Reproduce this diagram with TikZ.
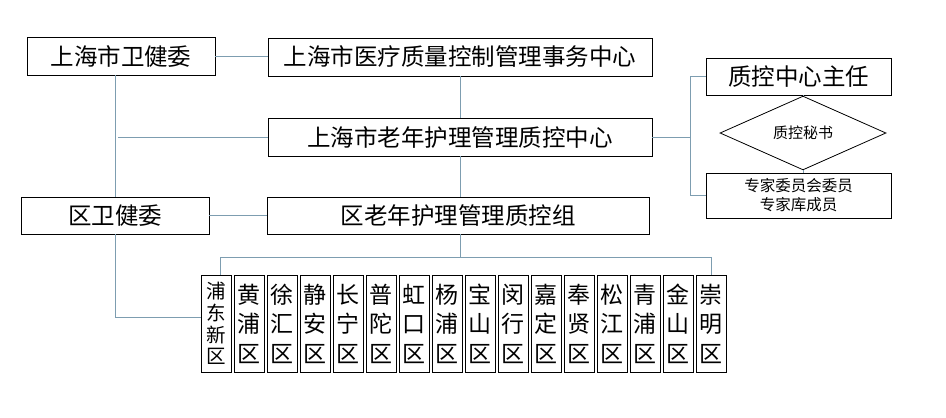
\documentclass[tikz,border=0pt]{standalone}
\usepackage{fontspec}
\setmainfont{Noto Sans CJK SC}
\usetikzlibrary{shapes.geometric}
\definecolor{connc}{RGB}{125,157,176}
\tikzset{
  box/.style={draw=black, line width=0.8pt, inner sep=0pt, align=center},
  big/.style={box, font=\fontsize{23.5}{28}\selectfont},
  dist/.style={box, minimum width=30, minimum height=97, font=\fontsize{23}{29.5}\selectfont},
  conn/.style={draw=connc, line width=0.9pt},
}
\begin{document}
\begin{tikzpicture}[x=1pt,y=-1pt]
\useasboundingbox[fill=white] (0,0) rectangle (946,418);
\node[big, minimum width=188, minimum height=38] (wjw) at (121,56) {上海市卫健委};
\node[big, minimum width=384, minimum height=38] (yl) at (460,57) {上海市医疗质量控制管理事务中心};
\node[big, minimum width=384, minimum height=38] (lnc) at (460,137) {上海市老年护理管理质控中心};
\node[big, minimum width=188, minimum height=37] (qwjw) at (115,215.5) {区卫健委};
\node[big, minimum width=382, minimum height=37] (qz) at (458,215.5) {区老年护理管理质控组};
\node[big, minimum width=185, minimum height=37] (zr) at (798.5,76.5) {质控中心主任};
\node[draw=black, line width=0.8pt, shape=diamond, inner sep=0pt, minimum width=166, minimum height=49, font=\fontsize{15}{18}\selectfont] (ms) at (803,133) {质控秘书};
\node[box, minimum width=185, minimum height=45, font=\fontsize{15.5}{19}\selectfont] (zj) at (798.5,195.5) {专家委员会委员\\专家库成员};
\node[dist, font=\fontsize{19.5}{21.7}\selectfont] (d1) at (216,323.5) {浦\\东\\新\\区};
\node[dist] (d2) at (249,323.5) {黄\\浦\\区};
\node[dist] (d3) at (282,323.5) {徐\\汇\\区};
\node[dist] (d4) at (315,323.5) {静\\安\\区};
\node[dist] (d5) at (348,323.5) {长\\宁\\区};
\node[dist] (d6) at (381,323.5) {普\\陀\\区};
\node[dist] (d7) at (414,323.5) {虹\\口\\区};
\node[dist] (d8) at (447,323.5) {杨\\浦\\区};
\node[dist] (d9) at (480,323.5) {宝\\山\\区};
\node[dist] (d10) at (513,323.5) {闵\\行\\区};
\node[dist] (d11) at (546,323.5) {嘉\\定\\区};
\node[dist] (d12) at (579,323.5) {奉\\贤\\区};
\node[dist] (d13) at (612,323.5) {松\\江\\区};
\node[dist] (d14) at (645,323.5) {青\\浦\\区};
\node[dist] (d15) at (678,323.5) {金\\山\\区};
\node[dist] (d16) at (711,323.5) {崇\\明\\区};
\coordinate (bx) at (690,0);
\coordinate (bus) at (0,257);
% connectors
\draw[conn] (wjw.east) -- (wjw.east -| yl.west);
\draw[conn] (yl.south) -- (lnc.north);
\draw[conn] (lnc.south) -- (lnc.south |- qz.north);
\draw[conn] (qwjw.north) -- (qwjw.north |- wjw.south);
\draw[conn] ([xshift=3pt]qwjw.north |- lnc.west) -- (lnc.west);
\draw[conn] (qwjw.east) -- (qz.west);
\draw[conn] (lnc.east) -- (lnc.east -| bx);
\draw[conn] (zr.west) -| (bx |- zj.west) -- (zj.west);
\draw[conn] (ms.north |- zr.south) -- (ms.north);
\draw[conn] (ms.south) -- (ms.south |- zj.north);
\draw[conn] (lnc.south |- qz.south) -- (lnc.south |- bus);
\draw[conn] ([xshift=4pt]d1.north) -- ([xshift=4pt]d1.north |- bus) -- (d16.north |- bus) -- (d16.north);
\draw[conn] (qwjw.south) |- ([yshift=6pt]d1.west);
\end{tikzpicture}
\end{document}
